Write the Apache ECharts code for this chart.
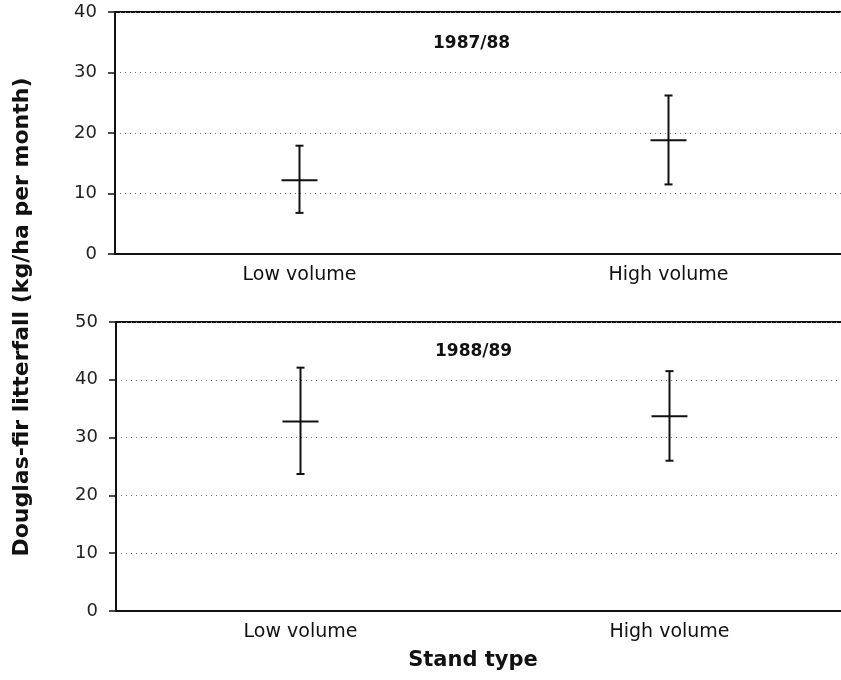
<!DOCTYPE html>
<html>
<head>
<meta charset="utf-8">
<script src="https://cdn.jsdelivr.net/npm/echarts@6/dist/echarts.min.js"></script>
<style>html,body{margin:0;padding:0;background:#fff;}#c{width:841px;height:680px;}</style>
</head>
<body>
<div id="c"></div>
<script>
const categories = ['Low volume', 'High volume'];
const panelTitles = ['1987/88', '1988/89'];
// [mean, lower, upper]
const data1987 = [[12.2, 6.8, 17.9], [18.8, 11.5, 26.2]];
const data1988 = [[32.8, 23.7, 42.1], [33.7, 26.0, 41.5]];
const yMax = [40, 50];
const yInterval = 10;
const yName = 'Douglas-fir litterfall (kg/ha per month)';
const xName = 'Stand type';

const FONT = 'DejaVu Sans';
const chart = echarts.init(document.getElementById('c'), null, {renderer: 'canvas'});

function renderErr(params, api) {
  const x = api.value(0);
  const m = api.coord([x, api.value(1)]);
  const lo = api.coord([x, api.value(2)]);
  const hi = api.coord([x, api.value(3)]);
  const style = {stroke: '#111', lineWidth: 2, fill: null};
  const cap = 4, half = 18;
  return {
    type: 'group',
    children: [
      {type: 'line', shape: {x1: m[0], y1: lo[1], x2: m[0], y2: hi[1]}, style: style},
      {type: 'line', shape: {x1: m[0] - cap, y1: lo[1], x2: m[0] + cap, y2: lo[1]}, style: style},
      {type: 'line', shape: {x1: m[0] - cap, y1: hi[1], x2: m[0] + cap, y2: hi[1]}, style: style},
      {type: 'line', shape: {x1: m[0] - half, y1: m[1], x2: m[0] + half, y2: m[1]}, style: style}
    ]
  };
}

function xAxisCfg(gi) {
  return {
    type: 'category', gridIndex: gi, data: categories, boundaryGap: true,
    axisLine: {show: true, lineStyle: {color: '#111', width: 2}},
    axisTick: {show: false},
    axisLabel: {color: '#111', fontFamily: FONT, fontSize: 19, margin: 12},
    splitLine: {show: false}
  };
}
function yAxisCfg(gi, max) {
  return {
    type: 'value', gridIndex: gi, min: 0, max: max, interval: yInterval,
    axisLine: {show: true, lineStyle: {color: '#111', width: 2}},
    axisTick: {show: true, length: 7, lineStyle: {color: '#111', width: 1.5}},
    axisLabel: {color: '#222', fontFamily: FONT, fontSize: 18, margin: 18},
    splitLine: {show: true, lineStyle: {color: '#777', width: 1, type: [1, 4]}}
  };
}

const grids = [
  {left: 115, top: 12, width: 738, height: 242, outerBoundsMode: 'none', show: true, borderColor: '#111', borderWidth: 2, backgroundColor: 'transparent'},
  {left: 116, top: 322, width: 738, height: 289, outerBoundsMode: 'none', show: true, borderColor: '#111', borderWidth: 2, backgroundColor: 'transparent'}
];

function toSeries(arr) {
  return arr.map((d, i) => [i, d[0], d[1], d[2]]);
}

chart.setOption({
  backgroundColor: '#fff',
  animation: false,
  grid: grids,
  xAxis: [xAxisCfg(0), xAxisCfg(1)],
  yAxis: [yAxisCfg(0, yMax[0]), yAxisCfg(1, yMax[1])],
  series: [
    {type: 'custom', xAxisIndex: 0, yAxisIndex: 0, renderItem: renderErr, data: toSeries(data1987), encode: {x: 0, y: [1, 2, 3]}},
    {type: 'custom', xAxisIndex: 1, yAxisIndex: 1, renderItem: renderErr, data: toSeries(data1988), encode: {x: 0, y: [1, 2, 3]}}
  ],
  graphic: [
    {type: 'text', x: 433, y: 44, style: {text: panelTitles[0], fontFamily: FONT, fontWeight: 'bold', fontSize: 17, fill: '#111', textVerticalAlign: 'middle'}},
    {type: 'text', x: 435, y: 352, style: {text: panelTitles[1], fontFamily: FONT, fontWeight: 'bold', fontSize: 17, fill: '#111', textVerticalAlign: 'middle'}},
    {type: 'text', x: 22, y: 317, rotation: Math.PI / 2, style: {text: yName, fontFamily: FONT, fontWeight: 'bold', fontSize: 22, fill: '#111', textAlign: 'center', textVerticalAlign: 'middle'}},
    {type: 'text', x: 473, y: 661, style: {text: xName, fontFamily: FONT, fontWeight: 'bold', fontSize: 21, fill: '#111', textAlign: 'center', textVerticalAlign: 'middle'}}
  ]
});
</script>
</body>
</html>
